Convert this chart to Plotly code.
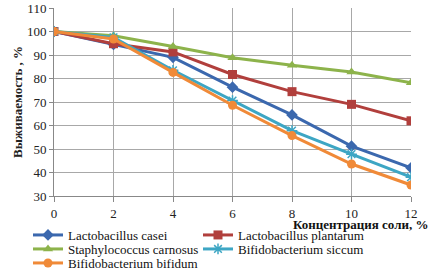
import plotly.graph_objects as go

conc = [0, 2, 4, 6, 8, 10, 12]
casei = [100, 94.5, 89, 76.3, 64.5, 51.2, 42]
plantarum = [100, 94.8, 91.3, 81.7, 74.4, 69, 62]
carnosus = [100, 98.2, 93.6, 88.8, 85.6, 82.8, 78.2]
siccum = [100, 97.5, 83.5, 70.6, 57.8, 47.8, 38]
bifidum = [100, 96.8, 82.6, 68.6, 55.7, 43.6, 34.7]

series = [
    ("Lactobacillus casei", casei, "#3B68AE", "diamond", "legend"),
    ("Lactobacillus plantarum", plantarum, "#B13F3C", "square", "legend"),
    ("Staphylococcus carnosus", carnosus, "#8DB34B", "triangle-up", "legend2"),
    ("Bifidobacterium siccum", siccum, "#3DA6C4", "asterisk-open", "legend2"),
    ("Bifidobacterium bifidum.", bifidum, "#F08A38", "circle", "legend3"),
]

fig = go.Figure()
for name, vals, col, sym, lg in series:
    mk = dict(symbol=sym, size=9, color=col)
    if sym == "asterisk-open":
        mk["line"] = dict(color=col, width=1.5)
    fig.add_trace(go.Scatter(x=conc, y=vals, name=name, mode="lines+markers",
                             line=dict(color=col, width=3), marker=mk, legend=lg))

font = "Liberation Serif"


def leg(ypix):
    return dict(orientation="h", xref="container", yref="container",
                x=28 / 432, y=1 - ypix / 271, xanchor="left", yanchor="middle",
                entrywidth=125, entrywidthmode="pixels", itemwidth=30,
                font=dict(family=font, size=13, color="#111"),
                tracegroupgap=0, bgcolor="rgba(0,0,0,0)")


fig.update_layout(
    width=432, height=271,
    margin=dict(l=54, r=21, t=8, b=75, autoexpand=False),
    paper_bgcolor="white", plot_bgcolor="white",
    font=dict(family=font, size=13, color="#222"),
    showlegend=True,
    legend=leg(235), legend2=leg(249), legend3=leg(263),
    xaxis=dict(range=[0, 12], tickvals=conc, showgrid=True, gridcolor="#A8A8A8",
               gridwidth=1, showline=True, linecolor="#888", ticks="outside",
               ticklen=5, tickcolor="#888", zeroline=False,
               tickfont=dict(family=font, size=13)),
    yaxis=dict(range=[30, 110], dtick=10, showgrid=True, gridcolor="#A8A8A8",
               gridwidth=1, showline=True, linecolor="#888", ticks="outside",
               ticklen=4, tickcolor="#888", zeroline=False,
               tickfont=dict(family=font, size=13),
               title=dict(text="<b>Выживаемость , %</b>", standoff=1,
                          font=dict(family=font, size=13))),
)
fig.add_annotation(text="<b>Концентрация соли, %</b>", xref="paper", yref="paper",
                   x=1.053, y=-0.152, xanchor="right", yanchor="middle", showarrow=False,
                   font=dict(family=font, size=13, color="#111"))

fig.write_html("out.html", config={"displayModeBar": False},
               post_script="document.body.style.margin='0px';")
